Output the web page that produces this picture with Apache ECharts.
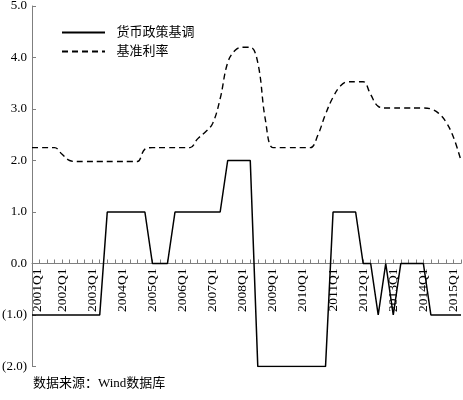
<!DOCTYPE html>
<html>
<head>
<meta charset="utf-8">
<script src="https://cdn.jsdelivr.net/npm/echarts@6/dist/echarts.min.js"></script>
<style>
html,body{margin:0;padding:0;background:#fff;}
#c{width:463px;height:400px;}
</style>
</head>
<body>
<div id="c"></div>
<script>
var quarters = [
'2001Q1','2001Q2','2001Q3','2001Q4','2002Q1','2002Q2','2002Q3','2002Q4',
'2003Q1','2003Q2','2003Q3','2003Q4','2004Q1','2004Q2','2004Q3','2004Q4',
'2005Q1','2005Q2','2005Q3','2005Q4','2006Q1','2006Q2','2006Q3','2006Q4',
'2007Q1','2007Q2','2007Q3','2007Q4','2008Q1','2008Q2','2008Q3','2008Q4',
'2009Q1','2009Q2','2009Q3','2009Q4','2010Q1','2010Q2','2010Q3','2010Q4',
'2011Q1','2011Q2','2011Q3','2011Q4','2012Q1','2012Q2','2012Q3','2012Q4',
'2013Q1','2013Q2','2013Q3','2013Q4','2014Q1','2014Q2','2014Q3','2014Q4',
'2015Q1','2015Q2'
];
var policyStance = [
-1,-1,-1,-1,-1,-1,-1,-1,
-1,-1, 1, 1, 1, 1, 1, 1,
 0, 0, 0, 1, 1, 1, 1, 1,
 1, 1, 2, 2, 2, 2,-2,-2,
-2,-2,-2,-2,-2,-2,-2,-2,
 1, 1, 1, 1, 0, 0,-1, 0,
-1, 0, 0, 0, 0,-1,-1,-1,
-1,-1
];
var benchmarkRate = [
2.25,2.25,2.25,2.25,2.12,2.00,1.98,1.98,
1.98,1.98,1.98,1.98,1.98,1.98,1.98,2.22,
2.25,2.25,2.25,2.25,2.25,2.25,2.42,2.55,
2.72,3.20,3.90,4.14,4.20,4.20,3.90,2.80,
2.25,2.25,2.25,2.25,2.25,2.25,2.50,2.90,
3.23,3.45,3.53,3.53,3.53,3.28,3.05,3.02,
3.02,3.02,3.02,3.02,3.02,3.00,2.92,2.75,
2.45,2.00
];
var seriesNames = ['货币政策基调','基准利率'];
var sourceText = '数据来源：Wind数据库';

var FONT = "'Liberation Serif', 'Noto Sans CJK SC', serif";
var chart = echarts.init(document.getElementById('c'), null, {renderer:'canvas'});
var option = {
  animation:false,
  backgroundColor:'#fff',
  grid:{left:32,right:2,top:6,bottom:33.5,containLabel:false,outerBoundsMode:'none'},
  legend:{
    show:true, orient:'vertical', left:56, top:21,
    itemWidth:43, itemHeight:12, itemGap:6,
    itemStyle:{opacity:0},
    textStyle:{fontFamily:FONT,fontSize:13,color:'#000'},
    formatter:function(n){ return '  ' + n; },
    data:seriesNames
  },
  xAxis:{
    type:'category', data:quarters, boundaryGap:false,
    axisLine:{onZero:false, lineStyle:{color:'#7f7f7f',width:1}},
    axisTick:{show:true, inside:true, length:4, interval:0, lineStyle:{color:'#7f7f7f'}},
    axisLabel:{interval:3, rotate:90, margin:5, fontFamily:FONT, fontSize:13.5, color:'#000',
      formatter:function(v, idx){ return idx === 0 ? '{first|' + v + '}' : v; },
      rich:{first:{fontFamily:FONT, fontSize:13.5, color:'#000', padding:[10,0,0,0]}}
    },
    splitLine:{show:false}
  },
  yAxis:{
    type:'value', min:-2, max:5, interval:1,
    axisLine:{show:true, lineStyle:{color:'#7f7f7f',width:1}},
    axisTick:{show:true, inside:true, length:4, lineStyle:{color:'#7f7f7f'}},
    axisLabel:{margin:5, fontFamily:FONT, fontSize:13, color:'#000',
      formatter:function(v){ return v<0 ? '('+Math.abs(v).toFixed(1)+')' : v.toFixed(1); }},
    splitLine:{show:false}
  },
  series:[
    {name:seriesNames[0], type:'line', data:policyStance, symbol:'none',
     lineStyle:{color:'#000', width:1.5, type:'solid'}, itemStyle:{color:'#000'}},
    {name:seriesNames[1], type:'line', data:benchmarkRate, symbol:'none', smooth:0.4,
     lineStyle:{color:'#000', width:1.4, type:[6,4]}, itemStyle:{color:'#000'}}
  ],
  graphic:[
    {type:'text', left:33, top:377, style:{text:sourceText, font:"13px "+FONT, fill:'#000'}}
  ]
};
chart.setOption(option);
// place the category axis on the zero line of the value axis
var zeroY = chart.convertToPixel({yAxisIndex:0}, 0);
var bottomY = chart.convertToPixel({yAxisIndex:0}, -2);
chart.setOption({xAxis:{offset:-(bottomY - zeroY)}});
</script>
</body>
</html>
